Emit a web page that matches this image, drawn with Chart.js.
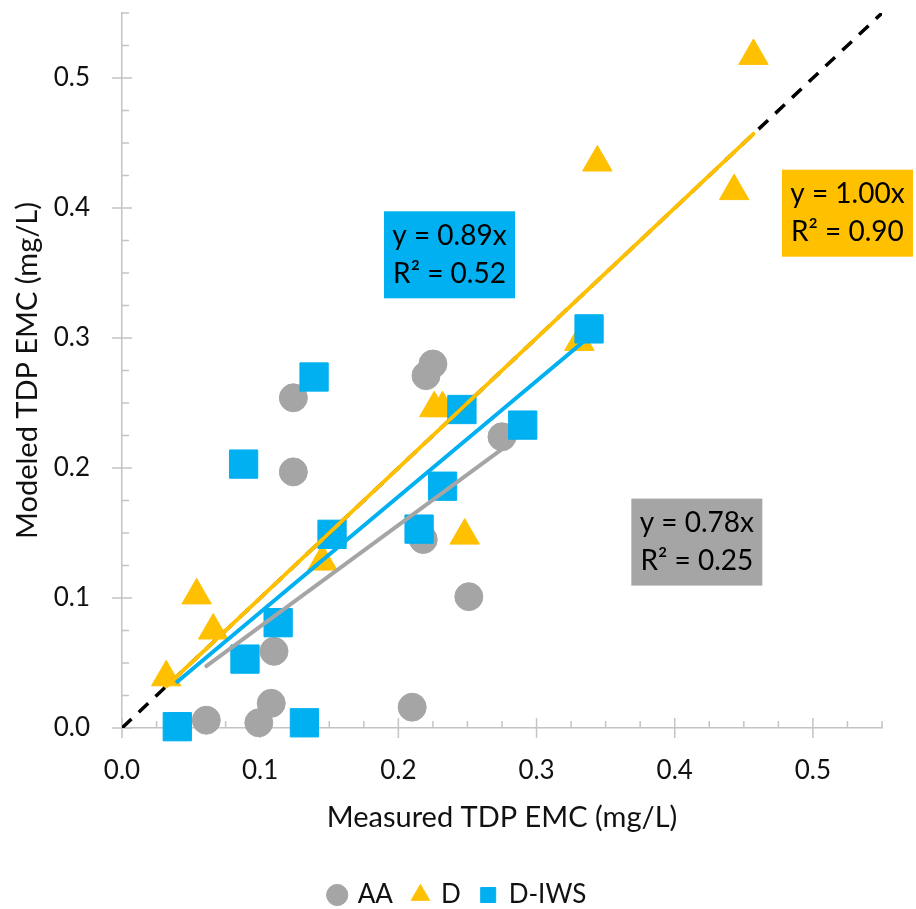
<!DOCTYPE html>
<html>
<head>
<meta charset="utf-8">
<title>TDP EMC</title>
<script src="https://cdn.jsdelivr.net/npm/chart.js@4.4.1/dist/chart.umd.min.js"></script>
<style>
  html, body { margin: 0; padding: 0; background: #fff; }
</style>
</head>
<body>
<canvas id="scatter" width="916" height="909"></canvas>
<script>
// measured vs modeled TDP EMC (mg/L)
var seriesNames = ['AA', 'D', 'D-IWS'];

var aaX = [0.061, 0.099, 0.108, 0.110, 0.124, 0.124, 0.210, 0.218, 0.220, 0.225, 0.251, 0.275];
var aaY = [0.006, 0.004, 0.019, 0.059, 0.254, 0.197, 0.016, 0.145, 0.271, 0.280, 0.101, 0.224];

var dX = [0.032, 0.054, 0.066, 0.145, 0.226, 0.232, 0.248, 0.331, 0.344, 0.443, 0.457];
var dY = [0.039, 0.102, 0.075, 0.128, 0.246, 0.246, 0.148, 0.297, 0.435, 0.413, 0.517];

var iwsX = [0.040, 0.088, 0.089, 0.113, 0.132, 0.139, 0.152, 0.215, 0.232, 0.246, 0.290, 0.338];
var iwsY = [0.001, 0.203, 0.053, 0.081, 0.004, 0.270, 0.149, 0.153, 0.186, 0.245, 0.233, 0.307];

// fitted through origin (y = b x)
var slopes = [0.78, 1.00, 0.89];
var rSquared = [0.25, 0.90, 0.52];

var tickValues = [0.0, 0.1, 0.2, 0.3, 0.4, 0.5];
var axisMax = 0.55;

var colors = ['#A5A5A5', '#FFC000', '#00B0F0'];
var axisColor = '#C4C4C4';
var fontName = 'Lato';

function toPoints(xs, ys) {
  return xs.map(function(x, i) { return {x: x, y: ys[i]}; });
}

function trendPoints(xs, b) {
  var lo = Math.min.apply(null, xs);
  var hi = Math.max.apply(null, xs);
  return [{x: lo, y: b * lo}, {x: hi, y: b * hi}];
}

function tickLabel(v) {
  for (var i = 0; i < tickValues.length; i++) {
    if (Math.abs(v - tickValues[i]) < 1e-6) return tickValues[i].toFixed(1);
  }
  return '';
}

// tick marks: major ones cross the axis, minor ones point inward
var axisTicks = {
  id: 'axisTicks',
  beforeDatasetsDraw: function(chart) {
    var ctx = chart.ctx;
    var xs = chart.scales.x, ys = chart.scales.y;
    var a = chart.chartArea;
    ctx.save();
    ctx.strokeStyle = axisColor;
    ctx.lineWidth = 1.5;
    ctx.beginPath();
    for (var i = 0; i <= Math.round(axisMax / 0.025); i++) {
      var v = i * 0.025;
      var major = i % 4 === 0;
      var px = xs.getPixelForValue(v);
      ctx.moveTo(px, a.bottom + (major ? 10 : 0));
      ctx.lineTo(px, a.bottom - (major ? 10 : 7));
      var py = ys.getPixelForValue(v);
      ctx.moveTo(a.left - (major ? 10 : 0), py);
      ctx.lineTo(a.left + (major ? 10 : 7), py);
    }
    ctx.stroke();
    ctx.restore();
  }
};

// legend is centred on the whole canvas, not the padded box
var legendFullWidth = {
  id: 'legendFullWidth',
  afterLayout: function(chart) {
    chart.legend.left = 0;
    chart.legend.right = chart.width;
  }
};

// the trendline equation boxes
var eqBoxes = {
  id: 'eqBoxes',
  afterDatasetsDraw: function(chart, args, opts) {
    var ctx = chart.ctx;
    var xs = chart.scales.x, ys = chart.scales.y;
    ctx.save();
    ctx.font = opts.fontSize + 'px ' + fontName;
    ctx.textAlign = 'center';
    ctx.textBaseline = 'middle';
    for (var i = 0; i < slopes.length; i++) {
      var cx = xs.getPixelForValue(opts.x[i]);
      var cy = ys.getPixelForValue(opts.y[i]);
      ctx.fillStyle = colors[i];
      ctx.fillRect(cx - opts.w / 2, cy - opts.h / 2, opts.w, opts.h);
      ctx.fillStyle = '#000';
      ctx.fillText('y = ' + slopes[i].toFixed(2) + 'x', cx, cy - opts.gap);
      ctx.fillText('R\u00B2 = ' + rSquared[i].toFixed(2), cx, cy + opts.gap);
    }
    ctx.restore();
  }
};

var markerStyles = ['circle', 'triangle', 'rect'];
var markerSizes = [14, 17, 20];
var xData = [aaX, dX, iwsX];
var yData = [aaY, dY, iwsY];

var datasets = [];
for (var i = 0; i < seriesNames.length; i++) {
  datasets.push({
    label: seriesNames[i],
    data: toPoints(xData[i], yData[i]),
    pointStyle: markerStyles[i],
    pointRadius: markerSizes[i],
    pointHoverRadius: markerSizes[i],
    backgroundColor: colors[i],
    borderColor: colors[i],
    borderWidth: 1,
    clip: false,
    order: 4 - i
  });
}
for (var j = 0; j < seriesNames.length; j++) {
  datasets.push({
    label: seriesNames[j] + ' trend',
    data: trendPoints(xData[j], slopes[j]),
    showLine: true,
    pointRadius: 0,
    borderColor: colors[j],
    borderWidth: 4,
    borderCapStyle: 'round',
    order: 0
  });
}
datasets.push({
  label: '1:1',
  data: [{x: 0, y: 0}, {x: axisMax, y: axisMax}],
  showLine: true,
  pointRadius: 0,
  borderColor: '#000',
  borderWidth: 3.5,
  borderDash: [13, 10],
  order: 1
});

var ctx = document.getElementById('scatter');

var scatterChart = new Chart(ctx, {
  type: 'scatter',
  data: { datasets: datasets },
  options: {
    responsive: false,
    animation: false,
    layout: {
      autoPadding: false,
      padding: { left: 0, right: 34, top: 13, bottom: -9 }
    },
    scales: {
      x: {
        type: 'linear',
        min: 0,
        max: axisMax,
        afterFit: function(scale) {
          scale.height = 134;
          scale.paddingLeft = 0;
          scale.paddingRight = 0;
        },
        border: { color: axisColor, width: 1.5 },
        grid: { drawOnChartArea: false, drawTicks: false },
        ticks: {
          stepSize: 0.05,
          autoSkip: false,
          maxRotation: 0,
          padding: 27,
          color: '#111',
          font: { family: fontName, size: 26 },
          callback: tickLabel
        },
        title: {
          display: true,
          text: 'Measured TDP EMC (mg/L)',
          color: '#111',
          font: { family: fontName, size: 29 },
          padding: { top: 10, bottom: 27 }
        }
      },
      y: {
        type: 'linear',
        min: 0,
        max: axisMax,
        afterFit: function(scale) {
          scale.width = 122;
          scale.paddingTop = 0;
          scale.paddingBottom = 0;
        },
        border: { color: axisColor, width: 1.5 },
        grid: { drawOnChartArea: false, drawTicks: false },
        ticks: {
          stepSize: 0.05,
          autoSkip: false,
          padding: 32,
          color: '#111',
          font: { family: fontName, size: 26 },
          callback: tickLabel
        },
        title: {
          display: true,
          text: 'Modeled TDP EMC (mg/L)',
          color: '#111',
          font: { family: fontName, size: 29 },
          padding: { top: 10, bottom: 0 }
        }
      }
    },
    plugins: {
      legend: {
        position: 'bottom',
        labels: {
          usePointStyle: true,
          boxWidth: 15,
          boxHeight: 15,
          padding: 20,
          color: '#111',
          font: { family: fontName, size: 26 },
          filter: function(item) { return item.datasetIndex < seriesNames.length; },
          sort: function(a, b) { return a.datasetIndex - b.datasetIndex; }
        }
      },
      tooltip: { enabled: false },
      eqBoxes: {
        x: [0.416, 0.525, 0.237],
        y: [0.143, 0.396, 0.364],
        w: 131,
        h: 87,
        gap: 19,
        fontSize: 28
      }
    }
  },
  plugins: [axisTicks, legendFullWidth, eqBoxes]
});
</script>
</body>
</html>
